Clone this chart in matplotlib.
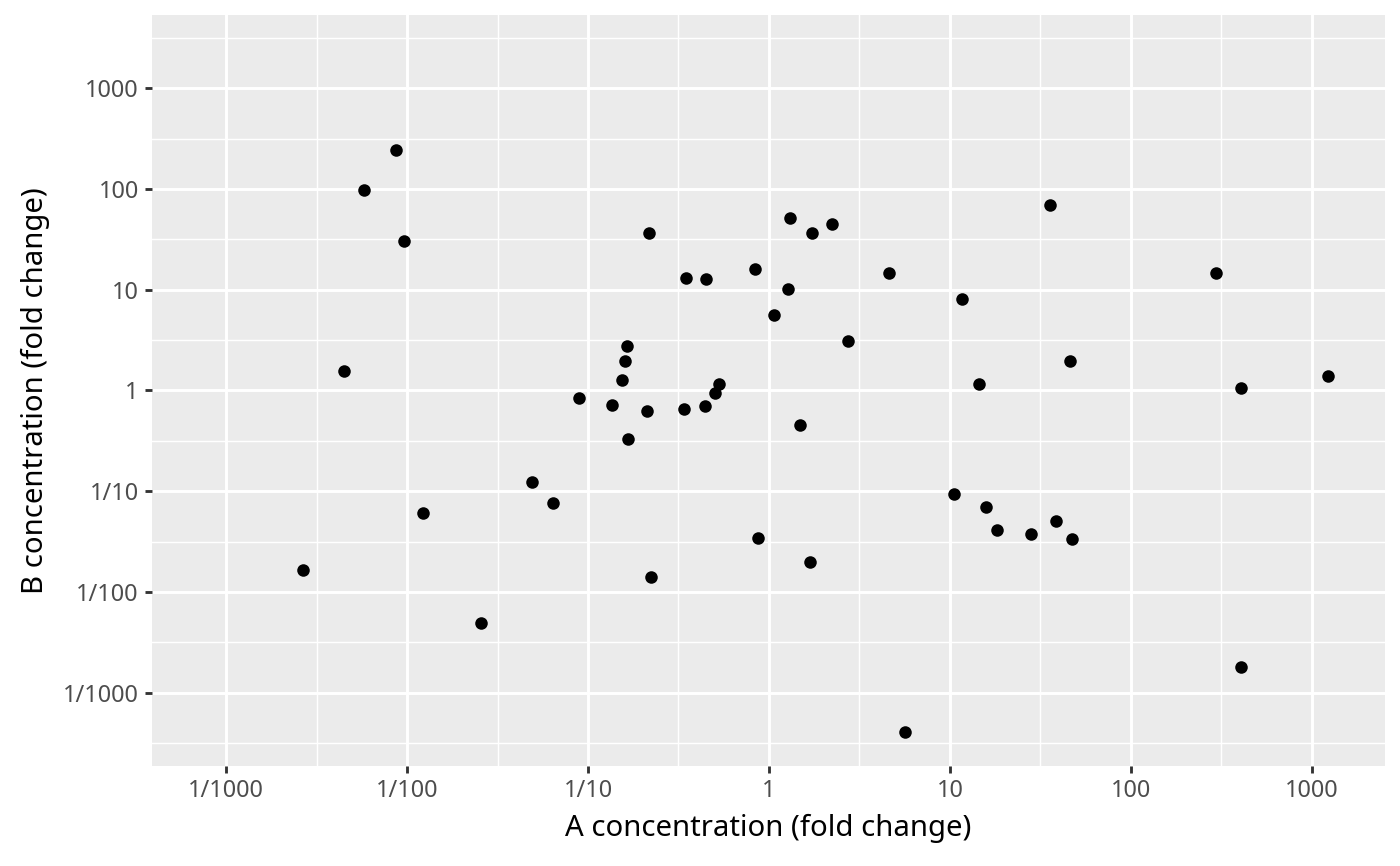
import numpy as np
import matplotlib
matplotlib.use('Agg')
import matplotlib.pyplot as plt
from matplotlib.ticker import FixedLocator, NullFormatter

plt.rcParams['font.family'] = ['Noto Sans', 'DejaVu Sans']

# fold change values
a_conc = [0.00265, 0.00446, 0.00575, 0.00863, 0.00957, 0.0122, 0.0255, 0.0493,
          0.0637, 0.0894, 0.135, 0.1545, 0.161, 0.165, 0.167, 0.213, 0.216,
          0.224, 0.340, 0.350, 0.442, 0.450, 0.502, 0.531, 0.832, 0.875,
          1.072, 1.281, 1.315, 1.493, 1.696, 1.733, 2.234, 2.739, 4.63,
          5.68, 10.6, 11.7, 14.4, 15.9, 18.3, 28.2, 35.9, 38.7, 46.3, 47.5,
          297, 408, 408, 1233]
b_conc = [0.0165, 1.563, 97.9, 244, 30.5, 0.0607, 0.00491, 0.123,
          0.0764, 0.842, 0.723, 1.262, 1.977, 2.786, 0.330, 0.622, 36.6,
          0.0141, 0.651, 13.0, 0.697, 12.9, 0.938, 1.160, 16.0, 0.0343,
          5.58, 10.26, 51.6, 0.451, 0.0198, 36.9, 45.0, 3.123, 14.7,
          0.000406, 0.0938, 8.11, 1.160, 0.0697, 0.0410, 0.0376, 69.5, 0.0506,
          1.963, 0.0335, 14.7, 1.059, 0.001795, 1.393]

breaks = [1e-3, 1e-2, 1e-1, 1, 10, 100, 1000]
break_labels = ['1/1000', '1/100', '1/10', '1', '10', '100', '1000']
minor_breaks = [10 ** (k + 0.5) for k in range(-4, 4)]

fig = plt.figure(figsize=(1400 / 192, 866 / 192), dpi=192)
ax = fig.add_axes([152 / 1400, 100 / 866, 1233 / 1400, 751 / 866])
ax.set_facecolor('#EBEBEB')

ax.set_xscale('log')
ax.set_yscale('log')
ax.set_xlim(10 ** -3.41, 10 ** 3.405)
ax.set_ylim(10 ** -3.73, 10 ** 3.73)

for axis in (ax.xaxis, ax.yaxis):
    axis.set_major_locator(FixedLocator(breaks))
    axis.set_minor_locator(FixedLocator(minor_breaks))
    axis.set_minor_formatter(NullFormatter())
ax.set_xticklabels(break_labels)
ax.set_yticklabels(break_labels)

ax.grid(which='major', color='white', linewidth=1.1)
ax.grid(which='minor', color='white', linewidth=0.55)
ax.set_axisbelow(True)
for s in ax.spines.values():
    s.set_visible(False)

ax.tick_params(which='major', length=2.75, width=1.07, color='#333333',
               labelsize=8.8, labelcolor='#4D4D4D', pad=2.2)
ax.tick_params(which='minor', length=0)

ax.plot(a_conc, b_conc, 'o', color='black', markersize=4.7, markeredgewidth=0)

ax.set_xlabel('A concentration (fold change)', fontsize=11, labelpad=4)
ax.set_ylabel('B concentration (fold change)', fontsize=11, labelpad=5)

fig.savefig('out.png', dpi=192)
